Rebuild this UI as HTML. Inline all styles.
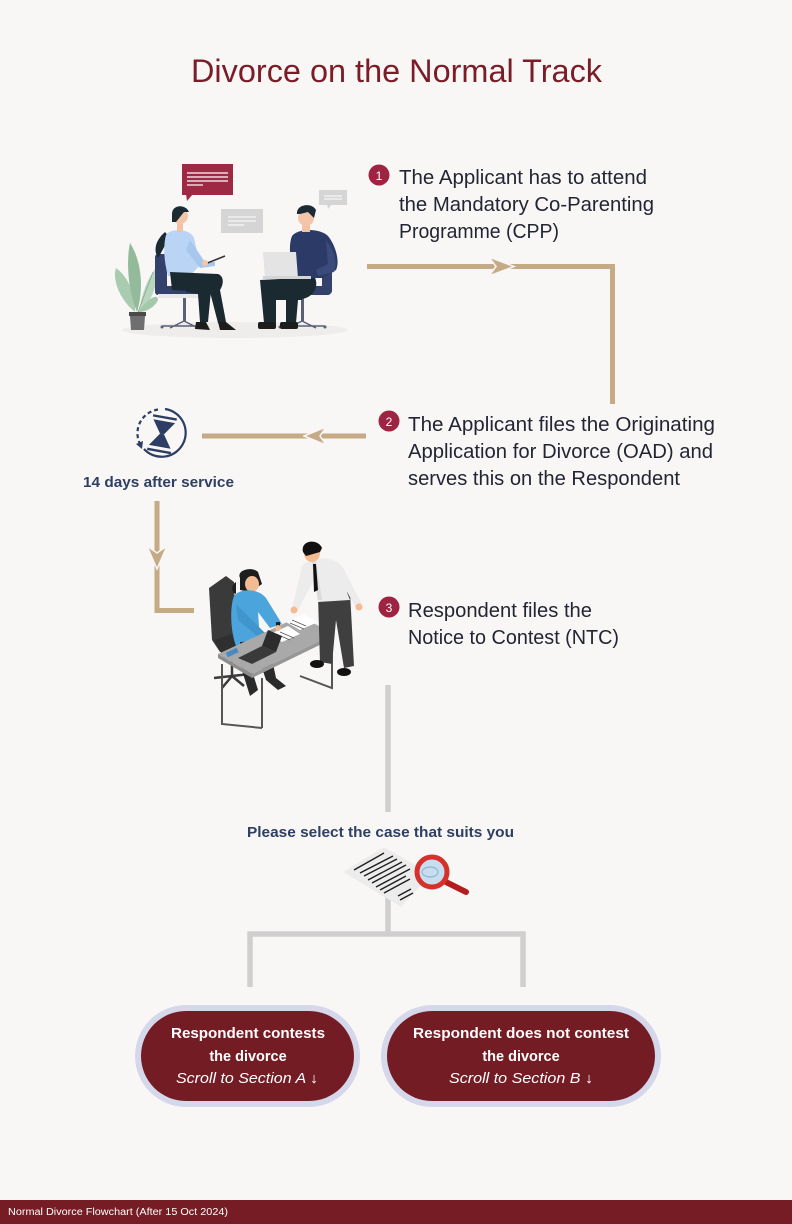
<!DOCTYPE html>
<html><head><meta charset="utf-8"><style>
html,body{margin:0;padding:0;background:#f9f6f6;}
svg{display:block;}
text{font-family:"Liberation Sans",sans-serif;}
</style></head><body>
<svg width="792" height="1224" viewBox="0 0 792 1224" xmlns="http://www.w3.org/2000/svg">
<rect width="792" height="1224" fill="#f9f6f6"/>

<!-- Title -->
<text x="191" y="82" font-size="32" fill="#7b1d27" textLength="411" lengthAdjust="spacingAndGlyphs">Divorce on the Normal Track</text>

<!-- ===== Illustration 1: meeting ===== -->
<ellipse cx="235" cy="330" rx="113" ry="8" fill="#efecec"/>
<!-- speech bubbles -->
<rect x="182" y="164" width="51" height="31" fill="#9e2945"/>
<polygon points="186,194 193,194 187,201" fill="#9e2945"/>
<g stroke="#ffffff" stroke-width="1.2">
<line x1="187" y1="173" x2="228" y2="173"/><line x1="187" y1="177" x2="228" y2="177"/>
<line x1="187" y1="181" x2="228" y2="181"/><line x1="187" y1="185" x2="203" y2="185"/>
</g>
<rect x="221" y="209" width="42" height="24" fill="#d6d5d5"/>
<g stroke="#ffffff" stroke-width="1.1">
<line x1="228" y1="217" x2="256" y2="217"/><line x1="228" y1="221" x2="256" y2="221"/><line x1="228" y1="225" x2="244" y2="225"/>
</g>
<rect x="319" y="190" width="28" height="15" fill="#d6d5d5"/>
<polygon points="327,204 332,204 328,209" fill="#d6d5d5"/>
<g stroke="#ffffff" stroke-width="1"><line x1="324" y1="196" x2="342" y2="196"/><line x1="324" y1="199" x2="342" y2="199"/></g>
<!-- plant -->
<path d="M135,312 C120,300 112,280 116,268 C126,275 136,292 135,312Z" fill="#a9ccb0"/>
<path d="M137,312 C128,290 126,262 130,243 C140,258 145,285 137,312Z" fill="#93bb9b"/>
<path d="M139,312 C142,290 150,275 156,268 C158,285 152,302 139,312Z" fill="#b7d6bd"/>
<path d="M138,312 C150,296 158,294 158,300 C154,308 146,312 138,312Z" fill="#a3c8aa"/>
<line x1="138" y1="312" x2="153" y2="272" stroke="#8aa58f" stroke-width="0.8"/>
<rect x="129" y="312" width="17" height="4" fill="#4a4a4a"/>
<polygon points="130,316 145,316 144,330 131,330" fill="#6f6f6f"/>
<!-- woman chair -->
<rect x="183" y="295" width="3" height="26" fill="#5a6177"/>
<path d="M162,326 L207,326 M184,321 L170,328 M184,321 L198,328" stroke="#5a6177" stroke-width="1.5" fill="none"/>
<circle cx="162" cy="327" r="1.5" fill="#5a6177"/><circle cx="207" cy="327" r="1.5" fill="#5a6177"/>
<rect x="155" y="254" width="12" height="40" rx="3" fill="#33416b"/>
<rect x="155" y="286" width="52" height="9" rx="3" fill="#33416b"/>
<rect x="158" y="294" width="46" height="4" fill="#e9e7e9"/>
<!-- woman -->
<path d="M165,232 C158,238 152,248 158,258 C162,252 165,244 170,238Z" fill="#1c2a33"/>
<path d="M166,235 C170,228 190,228 194,238 L200,265 L188,278 L168,276 C164,262 163,246 166,235Z" fill="#b9d4f4"/>
<path d="M190,240 L205,262 L215,262 L215,266 L200,268 L186,250Z" fill="#a8c7ec"/>
<path d="M170,272 L218,274 C224,276 224,284 220,290 L226,322 L218,323 L210,292 L172,290Z" fill="#1b2a31"/>
<path d="M186,278 L212,280 L208,322 L200,322 L198,294 L186,292Z" fill="#1b2a31"/>
<path d="M196,322 L206,322 L210,330 L195,329Z" fill="#1d1d1d"/>
<path d="M218,322 L226,322 L236,330 L220,330Z" fill="#1d1d1d"/>
<rect x="177" y="222" width="6" height="10" fill="#f2c2a4"/>
<circle cx="180" cy="216" r="8" fill="#f4c6a9"/>
<path d="M172,214 C172,204 186,204 189,212 L184,212 L176,222 L172,222Z" fill="#1c2a33"/>
<line x1="205" y1="264" x2="225" y2="256" stroke="#333" stroke-width="1.5"/>
<circle cx="205" cy="263" r="3" fill="#f4c6a9"/>
<!-- man chair -->
<rect x="301" y="295" width="3" height="26" fill="#5a6177"/>
<path d="M280,326 L325,326 M302,321 L288,328 M302,321 L316,328" stroke="#5a6177" stroke-width="1.5" fill="none"/>
<circle cx="280" cy="327" r="1.5" fill="#5a6177"/><circle cx="325" cy="327" r="1.5" fill="#5a6177"/>
<rect x="285" y="286" width="46" height="9" rx="3" fill="#33416b"/>
<rect x="322" y="262" width="10" height="32" rx="3" fill="#33416b"/>
<!-- man -->
<path d="M292,236 C298,228 320,228 328,236 C336,246 340,262 336,270 L322,278 L296,278 C290,262 288,246 292,236Z" fill="#2c3a67"/>
<path d="M326,240 C334,250 338,262 334,272 L318,276 L316,270 L328,264 Z" fill="#3a4a7a"/>
<rect x="302" y="222" width="8" height="10" fill="#f2c2a4"/>
<circle cx="306" cy="218" r="8" fill="#f4c6a9"/>
<path d="M297,214 C296,204 312,202 316,210 L314,218 L308,212 L300,214Z" fill="#1c2a33"/>
<path d="M260,280 L300,278 L302,300 L276,300 L276,323 L264,323Z" fill="#1b2a31"/>
<path d="M282,278 L315,278 C318,284 316,294 306,298 L298,300 L296,323 L286,323 L286,292Z" fill="#1b2a31"/>
<rect x="258" y="322" width="18" height="7" rx="2" fill="#1d1d1d"/>
<rect x="280" y="322" width="18" height="7" rx="2" fill="#1d1d1d"/>
<polygon points="263,252 296,252 298,278 265,278" fill="#e4e4e4"/>
<rect x="263" y="276" width="48" height="3" fill="#d4d4d4"/>

<!-- ===== Step 1 ===== -->
<circle cx="379" cy="175" r="10.5" fill="#9e2541"/>
<text x="379" y="180" font-size="12" fill="#fff" text-anchor="middle">1</text>
<g font-size="20" fill="#222633">
<text x="399" y="184" textLength="248" lengthAdjust="spacingAndGlyphs">The Applicant has to attend</text>
<text x="399" y="211" textLength="255" lengthAdjust="spacingAndGlyphs">the Mandatory Co-Parenting</text>
<text x="399" y="238" textLength="160" lengthAdjust="spacingAndGlyphs">Programme (CPP)</text>
</g>

<!-- Arrow 1 -->
<path d="M367,266.5 L612.5,266.5 L612.5,404" stroke="#c5ab85" stroke-width="5" fill="none"/>
<polygon points="489,257 514,266.5 489,276 496,266.5" fill="#c5ab85" stroke="#f9f6f6" stroke-width="1.5"/>

<!-- ===== Step 2 ===== -->
<circle cx="389" cy="421" r="10.5" fill="#9e2541"/>
<text x="389" y="426" font-size="12" fill="#fff" text-anchor="middle">2</text>
<g font-size="20" fill="#222633">
<text x="408" y="431" textLength="307" lengthAdjust="spacingAndGlyphs">The Applicant files the Originating</text>
<text x="408" y="458" textLength="305" lengthAdjust="spacingAndGlyphs">Application for Divorce (OAD) and</text>
<text x="408" y="485" textLength="272" lengthAdjust="spacingAndGlyphs">serves this on the Respondent</text>
</g>

<!-- Arrow 2 -->
<line x1="202" y1="436" x2="366" y2="436" stroke="#c5ab85" stroke-width="5"/>
<polygon points="304,436 326,427 320,436 326,445" fill="#c5ab85" stroke="#f9f6f6" stroke-width="1.5"/>

<!-- Hourglass icon -->
<g stroke="#2c3e63" fill="none" stroke-width="2.2">
<path d="M165,409 A24,24 0 1 1 144,449"/>
<path d="M158,409.5 A24,24 0 0 0 140,444" stroke-dasharray="4,3"/>
</g>
<polygon points="136,444 143,441 142,449" fill="#2c3e63"/>
<g transform="rotate(10 162 434)" fill="#2c3e63">
<rect x="150" y="416" width="24" height="2.4"/>
<rect x="150" y="450" width="24" height="2.4"/>
<polygon points="151,421 173,421 164,434 160,434"/>
<polygon points="160,434 164,434 173,447 151,447"/>
</g>
<text x="83" y="487" font-size="15" font-weight="bold" fill="#2d3f63" textLength="151" lengthAdjust="spacingAndGlyphs">14 days after service</text>

<!-- Arrow 3 -->
<path d="M157,501 L157,610.5 L194,610.5" stroke="#c5ab85" stroke-width="5" fill="none"/>
<polygon points="147,546 157,553 167,546 157,569" fill="#c5ab85" stroke="#f9f6f6" stroke-width="1.5"/>

<!-- ===== Illustration 2: office ===== -->
<!-- chair -->
<polygon points="209,588 226,576 234,582 236,648 220,652 212,640" fill="#3a3a3a"/>
<polygon points="214,640 250,628 260,642 224,658" fill="#2f2f2f"/>
<path d="M232,655 L232,676 M214,678 L250,674 M232,676 L222,688 M232,676 L244,686" stroke="#3a3a3a" stroke-width="2.5" fill="none"/>
<!-- woman -->
<path d="M240,578 C236,570 252,566 258,572 L262,584 L250,592 L240,590Z" fill="#1e1e1e"/>
<path d="M236,582 C232,584 230,592 236,594Z" fill="#1e1e1e"/>
<ellipse cx="252" cy="584" rx="7" ry="8" fill="#f2bb92"/>
<path d="M234,596 C240,588 258,588 266,598 L282,624 L270,628 L258,612 L260,640 L236,646 C230,630 230,606 234,596Z" fill="#4ba5dc"/>
<path d="M236,604 L238,620 L262,640 L266,634 L248,616Z" fill="#3f95cc"/>
<path d="M240,642 L268,640 L276,678 L286,686 L278,690 L266,680 L258,656 L250,664 L258,690 L250,696 L240,664Z" fill="#2a2a2a"/>
<!-- desk legs -->
<g stroke="#555" stroke-width="2" fill="none">
<path d="M222,664 L222,724 L262,728"/>
<path d="M262,678 L262,728"/>
<path d="M332,640 L332,688 L300,676"/>
</g>
<!-- desk top -->
<polygon points="218,654 300,616 334,634 252,674" fill="#a9a9a9"/>
<polygon points="218,654 252,674 252,678 218,658" fill="#8c8c8c"/>
<polygon points="252,674 334,634 334,638 252,678" fill="#979797"/>
<!-- papers -->
<polygon points="286,622 304,614 318,622 300,630" fill="#ffffff"/>
<polygon points="270,634 288,626 300,634 282,642" fill="#ffffff"/>
<g stroke="#555" stroke-width="0.8"><line x1="292" y1="620" x2="306" y2="626"/><line x1="290" y1="623" x2="304" y2="629"/><line x1="276" y1="634" x2="290" y2="640"/><line x1="280" y1="632" x2="294" y2="638"/></g>
<rect x="276" y="622" width="4" height="7" fill="#222"/>
<!-- laptop -->
<polygon points="238,658 262,646 276,652 252,664" fill="#3a3a3a"/>
<polygon points="262,646 276,652 282,636 268,630" fill="#2c2c2c"/>
<rect x="226" y="650" width="12" height="5" fill="#4a8ac4" transform="rotate(-25 232 652)"/>
<circle cx="278" cy="628" r="3" fill="#f2bb92"/>
<!-- man -->
<path d="M318,596 L350,592 L354,666 L344,668 L336,620 L332,664 L320,662Z" fill="#3f3f3f"/>
<ellipse cx="317" cy="664" rx="7" ry="4" fill="#111"/>
<ellipse cx="344" cy="672" rx="7" ry="4" fill="#111"/>
<path d="M302,566 C310,556 334,556 342,566 L362,604 L356,608 L346,590 L350,600 L318,602 L314,580 L298,610 L292,608 Z" fill="#ececec"/>
<path d="M312,562 L318,600 L322,600 L316,562Z" fill="#dadada"/>
<polygon points="313,564 316,564 318,590 314,592" fill="#111"/>
<ellipse cx="312" cy="553" rx="8" ry="9" fill="#f2bb92"/>
<path d="M303,552 C300,540 318,538 322,548 L320,552 L306,556Z" fill="#111"/>
<circle cx="294" cy="610" r="3.5" fill="#f2bb92"/>
<circle cx="359" cy="607" r="3.5" fill="#f2bb92"/>

<!-- ===== Step 3 ===== -->
<circle cx="389" cy="607" r="10.5" fill="#9e2541"/>
<text x="389" y="612" font-size="12" fill="#fff" text-anchor="middle">3</text>
<g font-size="20" fill="#222633">
<text x="408" y="617" textLength="184" lengthAdjust="spacingAndGlyphs">Respondent files the</text>
<text x="408" y="644" textLength="211" lengthAdjust="spacingAndGlyphs">Notice to Contest (NTC)</text>
</g>

<!-- Gray connector -->
<line x1="388" y1="685" x2="388" y2="812" stroke="#d0cecf" stroke-width="5.5"/>
<text x="247" y="837" font-size="15" font-weight="bold" fill="#2d3f63" textLength="267" lengthAdjust="spacingAndGlyphs">Please select the case that suits you</text>

<!-- doc + magnifier -->
<line x1="388" y1="895" x2="388" y2="934" stroke="#d0cecf" stroke-width="5.5"/>
<polygon points="343,872 384,847 431,874 401,907" fill="#ececec"/>
<g stroke="#1e1e1e" stroke-width="1.4">
<line x1="354" y1="870" x2="384" y2="853"/>
<line x1="360" y1="873" x2="393" y2="856"/>
<line x1="364" y1="876" x2="397" y2="859"/>
<line x1="368" y1="880" x2="402" y2="862"/>
<line x1="372" y1="883" x2="406" y2="865"/>
<line x1="376" y1="887" x2="410" y2="869"/>
<line x1="380" y1="890" x2="406" y2="876"/>
<line x1="384" y1="893" x2="410" y2="879"/>
<line x1="398" y1="896" x2="411" y2="889"/>
<line x1="400" y1="900" x2="413" y2="893"/>
</g>
<line x1="442" y1="880" x2="466" y2="892" stroke="#b31e1c" stroke-width="6" stroke-linecap="round"/>
<circle cx="432" cy="872" r="15" fill="#c8deef" stroke="#d6302a" stroke-width="5"/>
<ellipse cx="430" cy="872" rx="8" ry="5" fill="none" stroke="#8fb5d6" stroke-width="1.2"/>

<!-- branch -->
<path d="M250,987 L250,934 L523,934 L523,987" stroke="#d0cecf" stroke-width="5.5" fill="none"/>

<!-- pills -->
<rect x="135" y="1005" width="225" height="102" rx="51" fill="#d4d8ea"/>
<rect x="141" y="1011" width="213" height="90" rx="45" fill="#731c24"/>
<rect x="381" y="1005" width="280" height="102" rx="51" fill="#d4d8ea"/>
<rect x="387" y="1011" width="268" height="90" rx="45" fill="#731c24"/>
<g fill="#ffffff" font-size="14.5">
<text x="171" y="1038" font-weight="bold" textLength="154" lengthAdjust="spacingAndGlyphs">Respondent contests</text>
<text x="248" y="1061" font-weight="bold" text-anchor="middle">the divorce</text>
<text x="176" y="1083" font-style="italic" textLength="142" lengthAdjust="spacingAndGlyphs">Scroll to Section A ↓</text>
<text x="413" y="1038" font-weight="bold" textLength="216" lengthAdjust="spacingAndGlyphs">Respondent does not contest</text>
<text x="521" y="1061" font-weight="bold" text-anchor="middle">the divorce</text>
<text x="449" y="1083" font-style="italic" textLength="144" lengthAdjust="spacingAndGlyphs">Scroll to Section B ↓</text>
</g>

<!-- footer -->
<rect x="0" y="1200" width="792" height="24" fill="#751c25"/>
<text x="8" y="1215" font-size="10" fill="#ffffff" textLength="220" lengthAdjust="spacingAndGlyphs">Normal Divorce Flowchart (After 15 Oct 2024)</text>
</svg>
</body></html>
